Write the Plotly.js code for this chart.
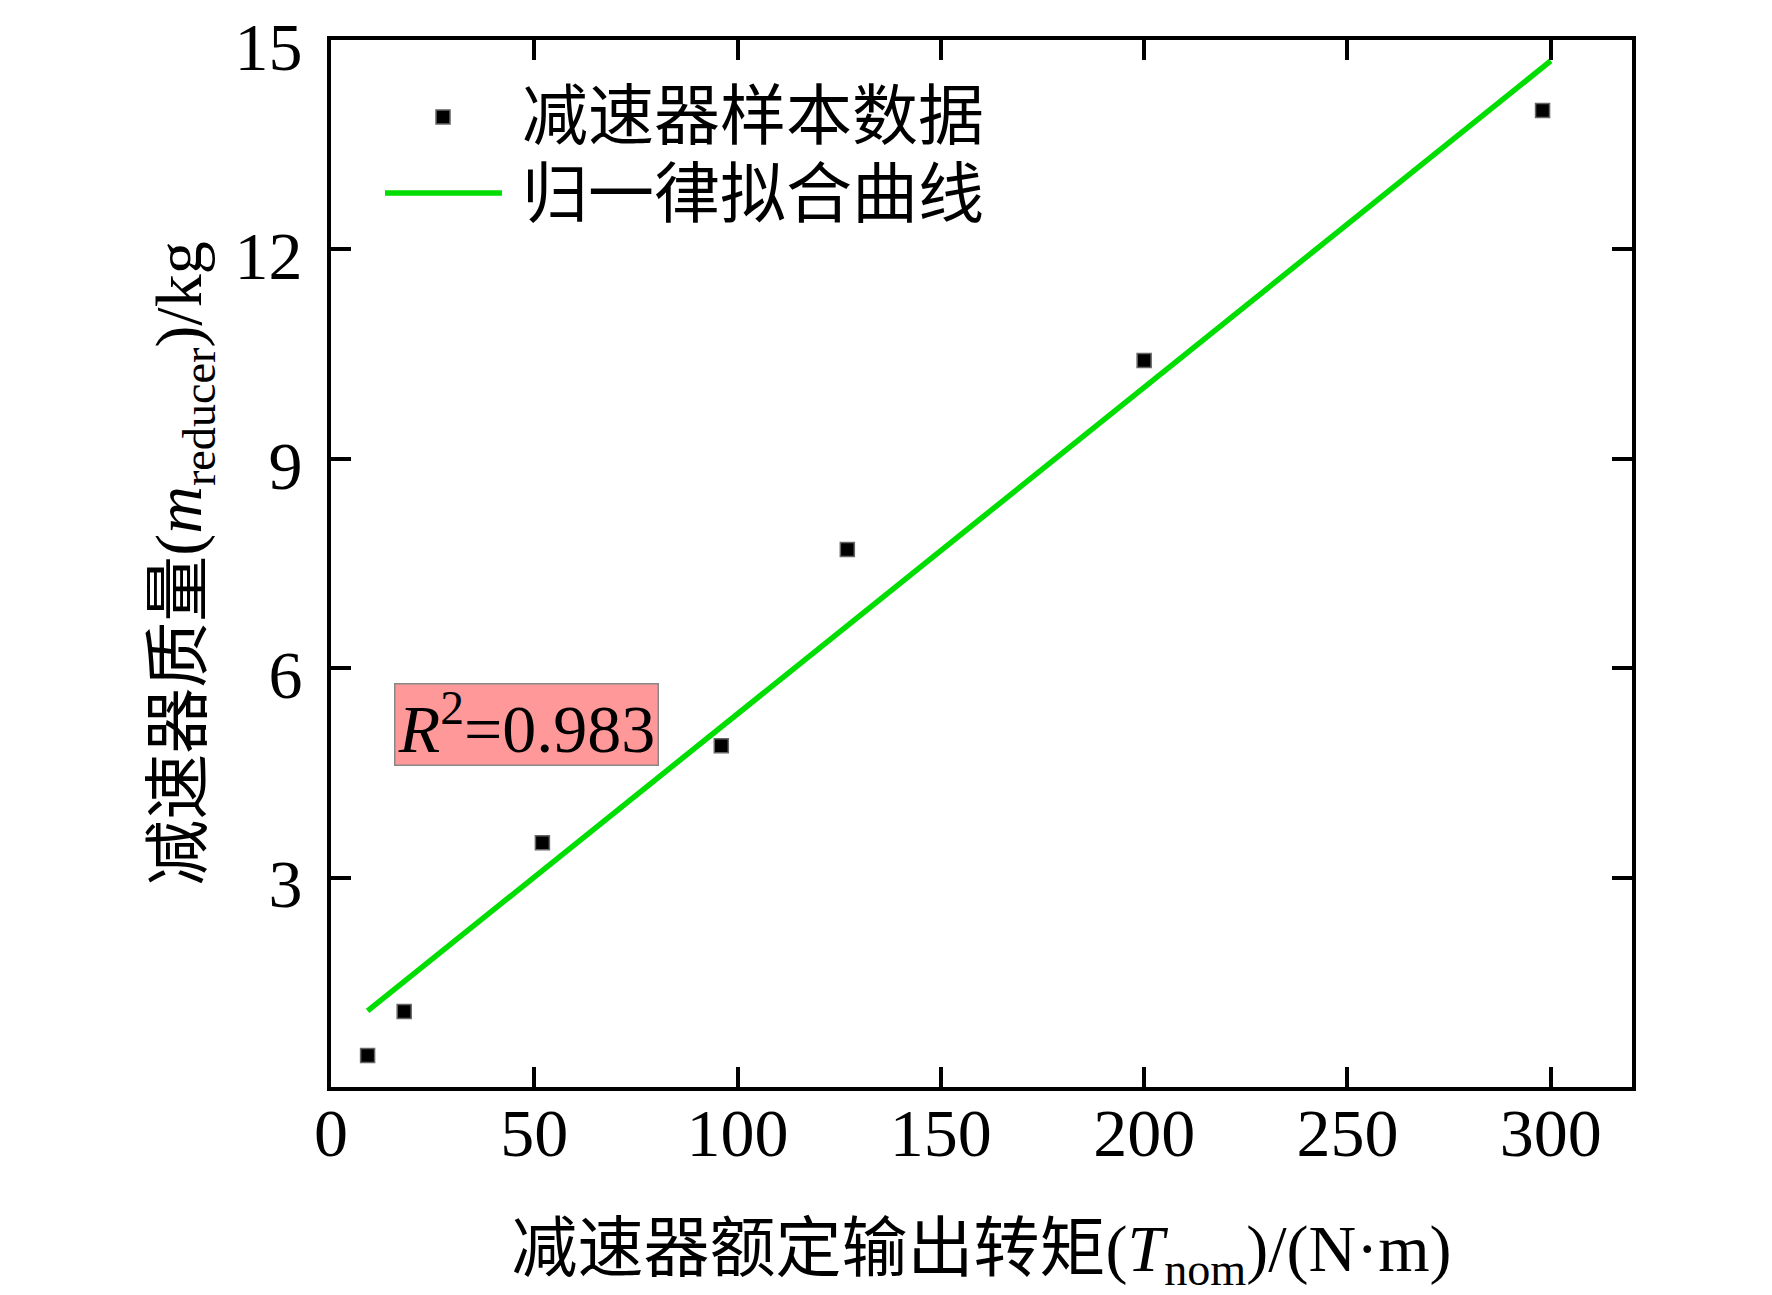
<!DOCTYPE html>
<html>
<head>
<meta charset="utf-8">
<script src="https://cdn.plot.ly/plotly-3.0.1.min.js"></script>
<style>
  html, body { margin: 0; padding: 0; background: #fff; }
  #chart { width: 1772px; height: 1295px; }
</style>
</head>
<body>
<div id="chart"></div>
<script type="text/javascript">

    /* * Data * */
    var torque_nom = [9, 18, 52, 96, 127, 200, 298];
    var reducer_mass = [0.45, 1.08, 3.5, 4.89, 7.7, 10.41, 13.99];
    /* * Fit line (normalisation law) end points * */
    var fit_x = [9, 300];
    var fit_y = [1.09, 14.7];
    var x_ticks = [0, 50, 100, 150, 200, 250, 300];
    var y_ticks = [3, 6, 9, 12, 15];
    var legend_names = ['减速器样本数据', '归一律拟合曲线'];
    var r2_text = '<i>R</i><sup>2</sup>=0.983';

    var font_family = '"Liberation Serif", "Times New Roman", "Noto Sans CJK SC", serif';
    var chart_container = document.getElementById('chart');

    var data = [{
        x: fit_x,
        y: fit_y,
        type: 'scatter',
        mode: 'lines',
        name: legend_names[1],
        line: { color: '#00DD00', width: 5.5 },
        showlegend: false
    }, {
        x: torque_nom,
        y: reducer_mass,
        type: 'scatter',
        mode: 'markers',
        name: legend_names[0],
        marker: { symbol: 'square', size: 14, color: '#000', line: { color: '#666', width: 1.5 } },
        showlegend: false
    }];

    var axis_common = {
        showline: true,
        linecolor: '#000',
        linewidth: 4,
        mirror: 'ticks',
        ticks: 'inside',
        ticklen: 20,
        tickwidth: 4,
        tickcolor: '#000',
        showgrid: false,
        zeroline: false,
        tickfont: { family: font_family, size: 68, color: '#000' }
    };

    var xaxis = Object.assign({}, axis_common, {
        range: [0, 320],
        tickmode: 'array',
        tickvals: x_ticks,
        ticktext: x_ticks.map(String),
        ticklabelstandoff: -17,
        title: {
            text: '减速器额定输出转矩(<i>T</i><sub>nom</sub>)/(N·m)',
            font: { family: font_family, size: 66, color: '#000' },
            standoff: 62
        }
    });

    var yaxis = Object.assign({}, axis_common, {
        range: [0, 15],
        tickmode: 'array',
        tickvals: y_ticks,
        ticktext: y_ticks.map(String),
        ticklabelstandoff: 11,
        ticklabelshift: 6,
        title: {
            text: '减速器质量(<i>m</i><sub>reducer</sub>)/kg',
            font: { family: font_family, size: 66, color: '#000' },
            standoff: 12
        }
    });

    /* * Hand-made legend (long line sample as in the original) * */
    var legend_shapes = [{
        type: 'rect', xref: 'paper', yref: 'paper',
        xsizemode: 'pixel', ysizemode: 'pixel',
        xanchor: 0.0861, yanchor: 0.9265,
        x0: -7, x1: 7, y0: -7, y1: 7,
        fillcolor: '#000', line: { color: '#666', width: 1.5 }
    }, {
        type: 'line', xref: 'paper', yref: 'paper',
        x0: 0.0415, x1: 0.1314, y0: 0.8539, y1: 0.8539,
        line: { color: '#00DD00', width: 5.5 }
    }];

    var annotations = [{
        xref: 'paper', yref: 'paper', x: 0.1453, y: 0.9265,
        xanchor: 'left', yanchor: 'middle', showarrow: false,
        text: legend_names[0],
        font: { family: font_family, size: 66, color: '#000' }
    }, {
        xref: 'paper', yref: 'paper', x: 0.1453, y: 0.852,
        xanchor: 'left', yanchor: 'middle', showarrow: false,
        text: legend_names[1],
        font: { family: font_family, size: 66, color: '#000' }
    }, {
        xref: 'x', yref: 'y', x: 48.1, y: 5.2,
        xanchor: 'center', yanchor: 'middle', showarrow: false,
        text: r2_text,
        width: 262,
        height: 80,
        bgcolor: '#FF9999',
        bordercolor: '#888',
        borderwidth: 1.5,
        borderpad: 0,
        font: { family: font_family, size: 68, color: '#000' }
    }];

    var layout = {
        width: 1772,
        height: 1295,
        margin: { l: 331, r: 140, t: 40, b: 208 },
        paper_bgcolor: '#fff',
        plot_bgcolor: '#fff',
        showlegend: false,
        xaxis: xaxis,
        yaxis: yaxis,
        shapes: legend_shapes,
        annotations: annotations
    };

    Plotly.newPlot(chart_container, data, layout, { displayModeBar: false, staticPlot: true });

</script>
</body>
</html>
